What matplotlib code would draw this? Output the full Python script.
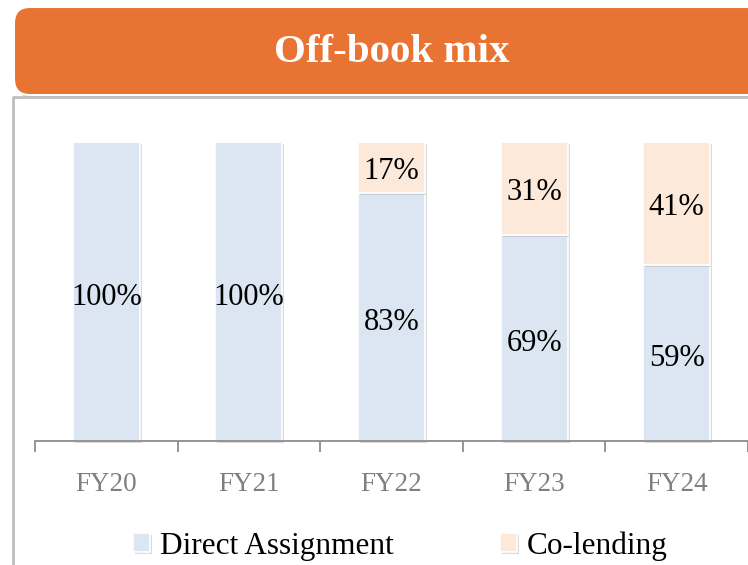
import matplotlib
matplotlib.use("Agg")
import matplotlib.pyplot as plt
import matplotlib.patheffects as pe
from matplotlib.patches import FancyBboxPatch
import numpy as np

plt.rcParams['font.family'] = ['Liberation Serif', 'DejaVu Serif']

categories = ["FY20", "FY21", "FY22", "FY23", "FY24"]
direct_assignment = [100, 100, 83, 69, 59]
co_lending = [0, 0, 17, 31, 41]
series_names = ["Direct Assignment", "Co-lending"]
title = "Off-book mix"

c_da = "#DCE6F2"
c_cl = "#FDE9DA"
c_orange = "#E97333"

W, H = 748, 565
fig = plt.figure(figsize=(W / 100, H / 100), dpi=100)

# background overlay in pixel coordinates
ax0 = fig.add_axes([0, 0, 1, 1], zorder=0)
ax0.set_xlim(0, W)
ax0.set_ylim(H, 0)
ax0.axis("off")

# gray frame
ax0.plot([13, 13, W + 5], [H + 5, 97, 97], color="#BFBFBF", lw=2, solid_capstyle="butt")

# banner shadow + banner
shadow = FancyBboxPatch((17, 10), 760, 88, boxstyle="round,pad=0,rounding_size=16",
                        facecolor="#7F7F7F", edgecolor="none", alpha=0.45)
ax0.add_patch(shadow)
banner = FancyBboxPatch((14, 7), 760, 88, boxstyle="round,pad=0,rounding_size=16",
                        facecolor=c_orange, edgecolor="white", lw=1.5)
ax0.add_patch(banner)
ax0.text(392, 52, title, ha="center", va="center", color="white",
         fontsize=29.5, fontweight="bold")

# main chart axes
left_px, right_px, bottom_px, top_px = 35, W, 441, 142
ax = fig.add_axes([left_px / W, 1 - bottom_px / H, (right_px - left_px) / W,
                   (bottom_px - top_px) / H], zorder=1)
ax.patch.set_alpha(0)
x = np.arange(len(categories))
width = 0.47
shadow_fx = [pe.SimplePatchShadow(offset=(1.5, -1.5), shadow_rgbFace="#999999", alpha=0.35),
             pe.Normal()]
b1 = ax.bar(x, direct_assignment, width, color=c_da, edgecolor="white", lw=1.2,
            label=series_names[0], clip_on=False)
b2 = ax.bar(x, co_lending, width, bottom=direct_assignment, color=c_cl,
            edgecolor="white", lw=1.2, label=series_names[1], clip_on=False)
for bars in (b1, b2):
    for r in bars:
        r.set_path_effects(shadow_fx)

for i in range(len(categories)):
    ax.annotate(f"{direct_assignment[i]}%", (x[i], direct_assignment[i] / 2),
                xytext=(0, -4), textcoords="offset points", ha="center",
                va="center", fontsize=22, color="black")
    if co_lending[i] > 0:
        ax.annotate(f"{co_lending[i]}%", (x[i], direct_assignment[i] + co_lending[i] / 2),
                    xytext=(0, -3), textcoords="offset points", ha="center",
                    va="center", fontsize=22, color="black")

ax.set_xlim(-0.5, (right_px - left_px) / 143.6 - 0.5)
ax.set_ylim(0, 100)
for s in ("top", "right", "left"):
    ax.spines[s].set_visible(False)
ax.spines["bottom"].set_color("#8C8C8C")
ax.spines["bottom"].set_linewidth(1.3)
ax.set_yticks([])
ax.set_xticks(x)
ax.set_xticklabels(categories, fontsize=19.5, color="#7F7F7F")
ax.set_xticks(np.arange(-0.5, len(categories), 1.0), minor=True)
ax.tick_params(axis="x", which="major", length=0, pad=22)
ax.tick_params(axis="x", which="minor", length=8, width=1.3, color="#8C8C8C", direction="out")

leg = ax.legend(handles=[b1, b2], loc="center", bbox_to_anchor=(0.535, 1 - 546 / H),
                bbox_transform=fig.transFigure, ncol=2, frameon=False, fontsize=22.5,
                handlelength=0.55, handleheight=0.55, handletextpad=0.3, columnspacing=3.4)

fig.savefig("out.png", dpi=100)
